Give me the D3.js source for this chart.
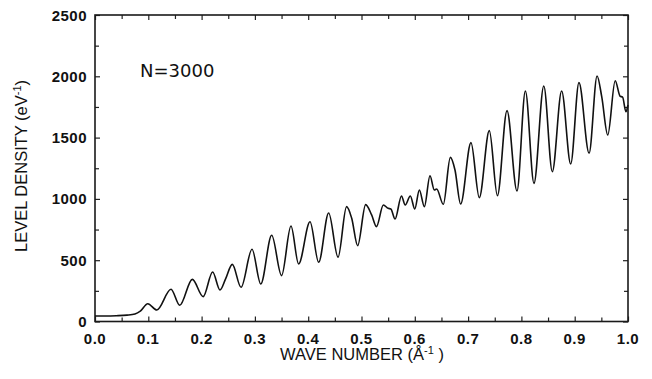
<!DOCTYPE html>
<html>
<head>
<meta charset="utf-8">
<script src="https://cdn.jsdelivr.net/npm/d3@7"></script>
<style>
  body { margin: 0; background: #fff; }
  svg { display: block; }
  .tick-label { font-family: "Liberation Sans", Arial, sans-serif; font-weight: bold; font-size: 15px; letter-spacing: 0.5px; fill: #111; }
  .title { font-family: "Liberation Sans", Arial, sans-serif; font-size: 16.5px; fill: #111; }
</style>
</head>
<body>
<div id="chart"></div>
<script>
// values
var waveNumber = [0, 0.02, 0.04, 0.06, 0.075, 0.085, 0.099, 0.116, 0.1426, 0.159, 0.1826, 0.203, 0.2207, 0.2345, 0.245, 0.2576, 0.274, 0.2946, 0.311, 0.3315, 0.350, 0.3677, 0.382, 0.4034, 0.4196, 0.4384, 0.456, 0.472, 0.4816, 0.4928, 0.5078, 0.519, 0.528, 0.541, 0.550, 0.555, 0.563, 0.575, 0.582, 0.5916, 0.600, 0.6085, 0.618, 0.6285, 0.6366, 0.641, 0.6535, 0.6667, 0.6754, 0.686, 0.7054, 0.721, 0.7398, 0.755, 0.773, 0.7917, 0.8075, 0.8236, 0.842, 0.858, 0.8755, 0.8925, 0.908, 0.927, 0.942, 0.9507, 0.962, 0.976, 0.985, 0.99, 0.996, 1.0];
var levelDensity = [45, 45, 47, 52, 62, 85, 145, 94, 263, 132, 344, 203, 404, 257, 347, 466, 279, 589, 306, 703, 374, 779, 469, 814, 483, 885, 524, 937, 842, 618, 953, 869, 774, 950, 923, 918, 836, 1024, 950, 1024, 918, 1073, 937, 1189, 1073, 1081, 956, 1339, 1236, 958, 1459, 1010, 1557, 1026, 1720, 1064, 1880, 1127, 1921, 1222, 1880, 1285, 1948, 1372, 2003, 1834, 1521, 1964, 1839, 1829, 1711, 1766];
var xTicks = [0, 0.1, 0.2, 0.3, 0.4, 0.5, 0.6, 0.7, 0.8, 0.9, 1.0];
var xMinor = [0.05, 0.15, 0.25, 0.35, 0.45, 0.55, 0.65, 0.75, 0.85, 0.95];
var yTicks = [0, 500, 1000, 1500, 2000, 2500];
var yMinor = [250, 750, 1250, 1750, 2250];

var width = 652, height = 379;
var plotLeft = 95, plotRight = 628, plotTop = 15, plotBottom = 321.5;

var svg = d3.select("#chart").append("svg")
  .attr("width", width).attr("height", height);

var x = d3.scaleLinear().domain([0, 1]).range([plotLeft, plotRight]);
var y = d3.scaleLinear().domain([0, 2500]).range([plotBottom, plotTop]);

// ticks pointing inward on all four sides, labels drawn separately
var tickStyle = function(g) {
  g.select(".domain").remove();
  g.selectAll(".tick line").attr("stroke", "#222").attr("stroke-width", 1.2);
  g.selectAll(".tick text").remove();
};

svg.append("g").attr("transform", "translate(0," + plotBottom + ")")
  .call(d3.axisTop(x).tickValues(xTicks).tickSize(5)).call(tickStyle);
svg.append("g").attr("transform", "translate(0," + plotBottom + ")")
  .call(d3.axisTop(x).tickValues(xMinor).tickSize(4)).call(tickStyle);
svg.append("g").attr("transform", "translate(0," + plotTop + ")")
  .call(d3.axisBottom(x).tickValues(xTicks).tickSize(5)).call(tickStyle);
svg.append("g").attr("transform", "translate(0," + plotTop + ")")
  .call(d3.axisBottom(x).tickValues(xMinor).tickSize(4)).call(tickStyle);
svg.append("g").attr("transform", "translate(" + plotLeft + ",0)")
  .call(d3.axisRight(y).tickValues(yTicks).tickSize(5)).call(tickStyle);
svg.append("g").attr("transform", "translate(" + plotLeft + ",0)")
  .call(d3.axisRight(y).tickValues(yMinor).tickSize(4)).call(tickStyle);
svg.append("g").attr("transform", "translate(" + plotRight + ",0)")
  .call(d3.axisLeft(y).tickValues(yTicks).tickSize(5)).call(tickStyle);
svg.append("g").attr("transform", "translate(" + plotRight + ",0)")
  .call(d3.axisLeft(y).tickValues(yMinor).tickSize(4)).call(tickStyle);

// frame
svg.append("rect")
  .attr("x", plotLeft).attr("y", plotTop)
  .attr("width", plotRight - plotLeft).attr("height", plotBottom - plotTop)
  .attr("fill", "none").attr("stroke", "#1a1a1a").attr("stroke-width", 1.6);

// tick labels
svg.selectAll(".xl").data(xTicks).enter().append("text")
  .attr("class", "tick-label")
  .attr("x", function(d) { return x(d); })
  .attr("y", plotBottom + 22)
  .attr("text-anchor", "middle")
  .text(function(d) { return d3.format(".1f")(d); });

svg.selectAll(".yl").data(yTicks).enter().append("text")
  .attr("class", "tick-label")
  .attr("x", plotLeft - 8)
  .attr("y", function(d) { return y(d) + 5.5; })
  .attr("text-anchor", "end")
  .text(function(d) { return d; });

// curve
var line = d3.line()
  .x(function(d, i) { return x(waveNumber[i]); })
  .y(function(d) { return y(d); })
  .curve(d3.curveMonotoneX);

svg.append("path")
  .datum(levelDensity)
  .attr("d", line)
  .attr("fill", "none")
  .attr("stroke", "#111")
  .attr("stroke-width", 1.6);

// annotation
svg.append("text")
  .attr("x", 140).attr("y", 77)
  .attr("font-family", "DejaVu Sans, sans-serif")
  .attr("font-size", 18)
  .attr("fill", "#111")
  .text("N=3000");

// axis titles
var xt = svg.append("text").attr("class", "title")
  .attr("x", 362).attr("y", 360)
  .attr("text-anchor", "middle");
xt.append("tspan").text("WAVE NUMBER (Å");
xt.append("tspan").attr("dy", -6).attr("font-size", 11).text("-1");
xt.append("tspan").attr("dy", 6).text(" )");

var yt = svg.append("text").attr("class", "title")
  .attr("transform", "translate(27,166) rotate(-90)")
  .attr("text-anchor", "middle");
yt.append("tspan").text("LEVEL DENSITY (eV");
yt.append("tspan").attr("dy", -6).attr("font-size", 11).text("-1");
yt.append("tspan").attr("dy", 6).text(")");
</script>
</body>
</html>
